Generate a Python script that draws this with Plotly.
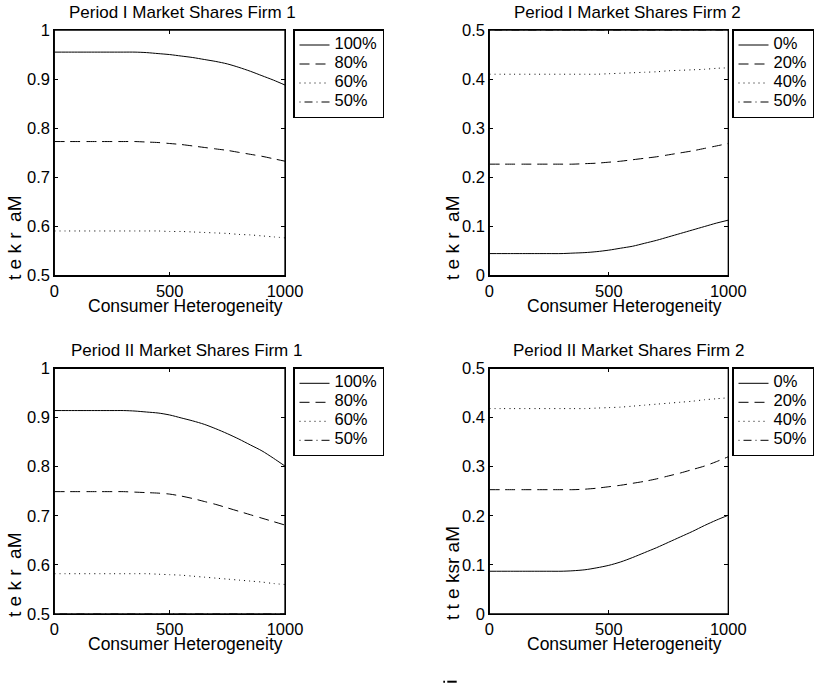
import plotly.graph_objects as go

# Consumer heterogeneity grid
heterogeneity = [0, 50, 100, 150, 200, 250, 300, 350, 400, 450, 500,
                 550, 600, 650, 700, 750, 800, 850, 900, 950, 1000]

# Period I, firm 1 market shares
p1_f1_100 = [0.955, 0.955, 0.955, 0.955, 0.955, 0.955, 0.955, 0.955, 0.954, 0.952, 0.950,
             0.947, 0.944, 0.940, 0.936, 0.931, 0.924, 0.916, 0.907, 0.898, 0.888]
p1_f1_80 = [0.773, 0.773, 0.773, 0.773, 0.773, 0.773, 0.773, 0.773, 0.772, 0.771, 0.769,
            0.767, 0.764, 0.761, 0.758, 0.755, 0.751, 0.747, 0.743, 0.738, 0.733]
p1_f1_60 = [0.591, 0.591, 0.591, 0.591, 0.591, 0.591, 0.591, 0.591, 0.591, 0.591, 0.590,
            0.590, 0.589, 0.588, 0.587, 0.586, 0.584, 0.583, 0.581, 0.579, 0.577]
p1_f1_50 = [0.5] * 21

# Period I, firm 2 market shares
p1_f2_0 = [0.045, 0.045, 0.045, 0.045, 0.045, 0.045, 0.045, 0.046, 0.047, 0.049, 0.052,
           0.056, 0.060, 0.066, 0.072, 0.079, 0.086, 0.093, 0.100, 0.107, 0.113]
p1_f2_20 = [0.227, 0.227, 0.227, 0.227, 0.227, 0.227, 0.227, 0.227, 0.228, 0.229, 0.231,
            0.233, 0.236, 0.239, 0.242, 0.246, 0.250, 0.254, 0.259, 0.264, 0.269]
p1_f2_40 = [0.410, 0.410, 0.410, 0.410, 0.410, 0.410, 0.410, 0.410, 0.410, 0.410, 0.411,
            0.412, 0.413, 0.414, 0.415, 0.417, 0.418, 0.419, 0.420, 0.422, 0.423]
p1_f2_50 = [0.5] * 21

# Period II, firm 1 market shares
p2_f1_100 = [0.914, 0.914, 0.914, 0.914, 0.914, 0.914, 0.914, 0.913, 0.911, 0.909, 0.905,
             0.899, 0.893, 0.886, 0.877, 0.867, 0.856, 0.844, 0.832, 0.817, 0.801]
p2_f1_80 = [0.749, 0.749, 0.749, 0.749, 0.749, 0.749, 0.749, 0.748, 0.747, 0.746, 0.744,
            0.740, 0.735, 0.729, 0.723, 0.716, 0.709, 0.702, 0.695, 0.688, 0.681]
p2_f1_60 = [0.582, 0.582, 0.582, 0.582, 0.582, 0.582, 0.582, 0.582, 0.582, 0.581, 0.580,
            0.579, 0.577, 0.575, 0.573, 0.571, 0.569, 0.567, 0.565, 0.562, 0.560]
p2_f1_50 = [0.5] * 21

# Period II, firm 2 market shares
p2_f2_0 = [0.087, 0.087, 0.087, 0.087, 0.087, 0.087, 0.087, 0.088, 0.090, 0.094, 0.099,
           0.106, 0.115, 0.125, 0.135, 0.146, 0.157, 0.168, 0.180, 0.191, 0.201]
p2_f2_20 = [0.253, 0.253, 0.253, 0.253, 0.253, 0.253, 0.253, 0.253, 0.254, 0.256, 0.259,
            0.262, 0.266, 0.270, 0.275, 0.281, 0.287, 0.294, 0.301, 0.310, 0.320]
p2_f2_40 = [0.418, 0.418, 0.418, 0.418, 0.418, 0.418, 0.418, 0.418, 0.418, 0.419, 0.420,
            0.421, 0.423, 0.425, 0.427, 0.429, 0.431, 0.433, 0.436, 0.438, 0.440]
p2_f2_50 = [0.5] * 21

labels_f1 = ["100%", "80%", "60%", "50%"]
labels_f2 = ["0%", "20%", "40%", "50%"]
titles = ["Period I Market Shares Firm 1", "Period I Market Shares Firm 2",
          "Period II Market Shares Firm 1", "Period II Market Shares Firm 2"]
ylabels = ["t e k r\u00a0\u00a0aM", "t e k r\u00a0\u00a0aM", "t e k r\u00a0\u00a0aM", "t t e ksr aM"]
xlabel = "Consumer Heterogeneity"

W, H = 814, 689
FONT = "Liberation Sans, Arial, Helvetica, sans-serif"
DASHES = ["solid", "10px,6px", "1px,4px", "1px,4px,8px,4px"]


def px(x):
    return x / W


def py(y):
    return 1 - y / H


panels = [
    # series, labels, y range, y ticks, plot box (left, right, top, bottom) in px, legend left
    ([p1_f1_100, p1_f1_80, p1_f1_60, p1_f1_50], labels_f1, [0.5, 1.0],
     [0.5, 0.6, 0.7, 0.8, 0.9, 1.0], (54.3, 285.0, 30.0, 275.7), 293),
    ([p1_f2_0, p1_f2_20, p1_f2_40, p1_f2_50], labels_f2, [0.0, 0.5],
     [0.0, 0.1, 0.2, 0.3, 0.4, 0.5], (489.3, 728.3, 30.0, 275.7), 732),
    ([p2_f1_100, p2_f1_80, p2_f1_60, p2_f1_50], labels_f1, [0.5, 1.0],
     [0.5, 0.6, 0.7, 0.8, 0.9, 1.0], (54.3, 285.0, 368.3, 614.0), 293),
    ([p2_f2_0, p2_f2_20, p2_f2_40, p2_f2_50], labels_f2, [0.0, 0.5],
     [0.0, 0.1, 0.2, 0.3, 0.4, 0.5], (489.3, 728.3, 368.3, 614.0), 732),
]

title_centers = [182, 627, 186, 628]
ylabel_pos = [(14, 282), (452, 282), (14, 619), (452, 622)]

fig = go.Figure()
layout = dict(
    width=W, height=H, autosize=False,
    margin=dict(l=0, r=0, t=0, b=0, pad=0, autoexpand=False),
    paper_bgcolor="white", plot_bgcolor="white",
    font=dict(family=FONT, size=16, color="black"),
    annotations=[], shapes=[],
)

for i, (series, labels, yr, yt, box, leg_x) in enumerate(panels):
    n = "" if i == 0 else str(i + 1)
    left, right, top, bottom = box
    legend_name = "legend" + n
    for vals, lab, dash in zip(series, labels, DASHES):
        fig.add_trace(go.Scatter(
            x=heterogeneity, y=vals, mode="lines",
            name="<span style='font-size:16.5px'>%s</span>" % lab,
            line=dict(color="black", width=1, dash=dash, shape="spline", smoothing=0.8),
            xaxis="x" + n, yaxis="y" + n, legend=legend_name,
            hoverinfo="skip",
        ))
    axis_common = dict(
        showline=True, linecolor="black", linewidth=1.2, mirror="ticks",
        ticks="inside", ticklen=4, tickwidth=1, tickcolor="black",
        showgrid=False, zeroline=False,
        tickfont=dict(family=FONT, size=16.5, color="black"),
    )
    layout["xaxis" + n] = dict(
        axis_common, domain=[px(left), px(right)], range=[0, 1000],
        tickvals=[0, 500, 1000], anchor="y" + n,
    )
    layout["yaxis" + n] = dict(
        axis_common, domain=[py(bottom), py(top)], range=yr,
        tickvals=yt, ticktext=[("%g" % v) for v in yt], anchor="x" + n,
        ticklabelstandoff=0,
    )
    layout[legend_name] = dict(
        x=px(leg_x), y=py(top - 1), xanchor="left", yanchor="top",
        bgcolor="white", bordercolor="black", borderwidth=1.5,
        font=dict(family=FONT, size=10, color="black"),
        tracegroupgap=0, itemwidth=30, itemclick=False,
    )
    # axes box drawn over the traces so edge-level series sit under the frame
    layout["shapes"].append(dict(
        type="rect", xref="x%s domain" % n, yref="y%s domain" % n,
        x0=0, x1=1, y0=0, y1=1, layer="above",
        line=dict(color="black", width=1.3), fillcolor="rgba(0,0,0,0)",
    ))
    # panel title
    layout["annotations"].append(dict(
        text=titles[i], x=px(title_centers[i]), y=py(top - 18),
        xref="paper", yref="paper", xanchor="center", yanchor="middle",
        showarrow=False, font=dict(family=FONT, size=17, color="black"),
    ))
    # x-axis title
    layout["annotations"].append(dict(
        text=xlabel, x=px((left + right) / 2 + 16), y=py(bottom + 30),
        xref="paper", yref="paper", xanchor="center", yanchor="middle",
        showarrow=False, font=dict(family=FONT, size=17.5, color="black"),
    ))
    # y-axis title
    yx, yb = ylabel_pos[i]
    layout["annotations"].append(dict(
        text=ylabels[i], x=px(yx), y=py(yb), textangle=-90,
        xref="paper", yref="paper", xanchor="center", yanchor="bottom",
        showarrow=False, font=dict(family=FONT, size=19, color="black"),
    ))

# small stray dash-dot stroke under the panels
layout["shapes"].append(dict(type="line", xref="paper", yref="paper",
                             x0=px(443.3), x1=px(445.0), y0=py(681.7), y1=py(681.7),
                             line=dict(color="black", width=2)))
layout["shapes"].append(dict(type="line", xref="paper", yref="paper",
                             x0=px(447.3), x1=px(456.7), y0=py(681.7), y1=py(681.7),
                             line=dict(color="black", width=2)))

fig.update_layout(**layout)
fig.write_html("out.html")
